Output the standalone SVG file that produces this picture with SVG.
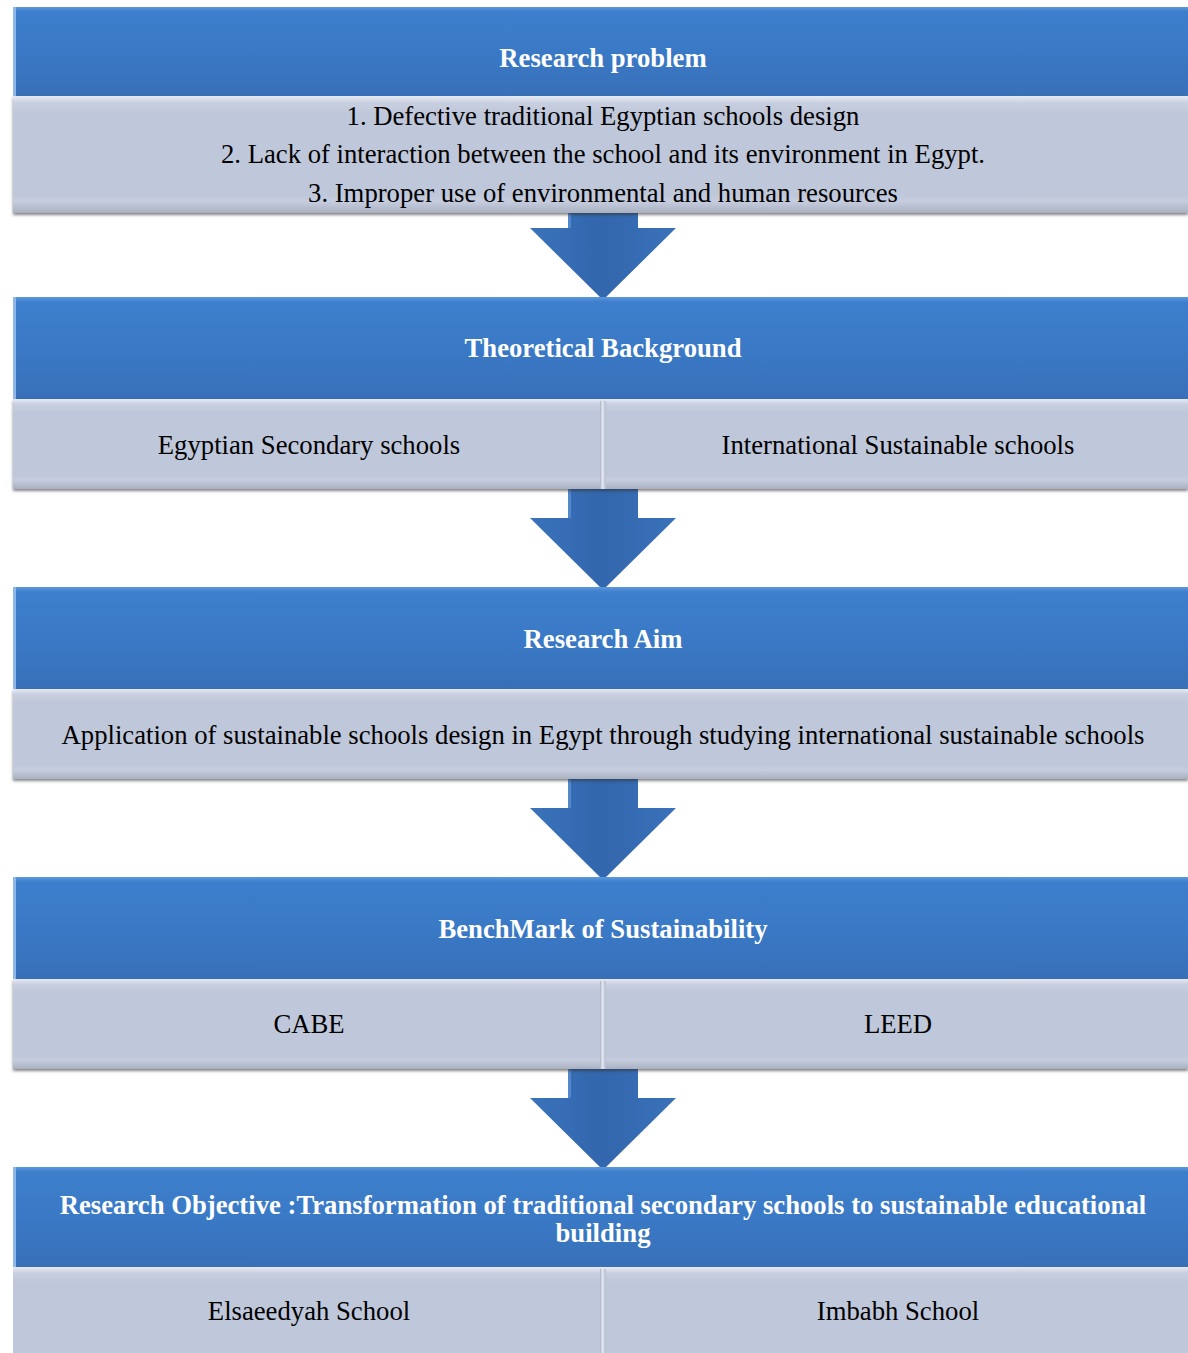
<svg xmlns="http://www.w3.org/2000/svg" width="1188" height="1353" viewBox="0 0 1188 1353">
<defs>
<linearGradient id="hdr" x1="0" y1="0" x2="0" y2="1">
<stop offset="0" stop-color="#5d98dc"/>
<stop offset="0.05" stop-color="#3d7fcc"/>
<stop offset="0.5" stop-color="#3a79c6"/>
<stop offset="1" stop-color="#3870b8"/>
</linearGradient>
<linearGradient id="body" x1="0" y1="0" x2="0" y2="1">
<stop offset="0" stop-color="#e6eaf3"/>
<stop offset="0.06" stop-color="#c8cfe0"/>
<stop offset="0.15" stop-color="#bfc7da"/>
<stop offset="0.85" stop-color="#bfc7da"/>
<stop offset="0.9" stop-color="#c6cddf"/>
<stop offset="1" stop-color="#a9b0c0"/>
</linearGradient>
<linearGradient id="arr" x1="0" y1="0" x2="1" y2="0">
<stop offset="0" stop-color="#3a73ba"/>
<stop offset="0.5" stop-color="#3266ad"/>
<stop offset="1" stop-color="#3a72b9"/>
</linearGradient>
<linearGradient id="div" x1="0" y1="0" x2="1" y2="0">
<stop offset="0" stop-color="#a9b1c4"/>
<stop offset="0.4" stop-color="#e3e8f2"/>
<stop offset="1" stop-color="#b3bbcd"/>
</linearGradient>
<filter id="sh" x="-5%" y="-10%" width="110%" height="130%">
<feDropShadow dx="0" dy="2" stdDeviation="1.5" flood-color="#333" flood-opacity="0.6"/>
</filter>
</defs>
<style>
.h{fill:url(#hdr)}
.b{fill:url(#body)}
.ht{font-family:"Liberation Serif",serif;font-weight:bold;font-size:26.7px;fill:#ffffff;text-anchor:middle}
.bt{font-family:"Liberation Serif",serif;font-size:26.7px;fill:#000000;text-anchor:middle}
.a{fill:url(#arr)}
.al{fill:#5f93d4;opacity:0.7}
.d{fill:url(#div)}
.hl{fill:#8fb8ea}
</style>

<g id="connectors">
<g id="arrow1"><polygon class="a" points="568,210 638,210 638,228 676,228 603,300 530,228 568,228"/><rect class="al" x="568" y="213" width="3" height="15"/></g>
<g id="arrow2"><polygon class="a" points="568,486 638,486 638,518 676,518 603,590 530,518 568,518"/><rect class="al" x="568" y="489" width="3" height="29"/></g>
<g id="arrow3"><polygon class="a" points="568,776 638,776 638,808 676,808 603,880 530,808 568,808"/><rect class="al" x="568" y="779" width="3" height="29"/></g>
<g id="arrow4"><polygon class="a" points="568,1066 638,1066 638,1098 676,1098 603,1170 530,1098 568,1098"/><rect class="al" x="568" y="1069" width="3" height="29"/></g>
</g>

<g id="node1">
<rect class="h" x="13" y="7" width="1175" height="89"/>
<rect class="hl" x="13" y="7" width="3" height="89"/>
<rect class="b" x="13" y="96" width="1175" height="117" filter="url(#sh)"/>
<text class="ht" x="603" y="67">Research problem</text>
<text class="bt" x="603" y="125">1. Defective traditional Egyptian schools design</text>
<text class="bt" x="603" y="163">2. Lack of interaction between the school and its environment in Egypt.</text>
<text class="bt" x="603" y="202">3. Improper use of environmental and human resources</text>
</g>

<g id="node2">
<rect class="h" x="13" y="297" width="1175" height="102"/>
<rect class="hl" x="13" y="297" width="3" height="102"/>
<rect class="b" x="13" y="399" width="1175" height="90" filter="url(#sh)"/>
<rect class="d" x="600" y="401" width="6" height="88"/>
<text class="ht" x="603" y="357">Theoretical Background</text>
<text class="bt" x="309" y="454">Egyptian Secondary schools</text>
<text class="bt" x="898" y="454">International Sustainable schools</text>
</g>

<g id="node3">
<rect class="h" x="13" y="587" width="1175" height="102"/>
<rect class="hl" x="13" y="587" width="3" height="102"/>
<rect class="b" x="13" y="689" width="1175" height="90" filter="url(#sh)"/>
<text class="ht" x="603" y="648">Research Aim</text>
<text class="bt" x="603" y="744">Application of sustainable schools design in Egypt through studying international sustainable schools</text>
</g>

<g id="node4">
<rect class="h" x="13" y="877" width="1175" height="102"/>
<rect class="hl" x="13" y="877" width="3" height="102"/>
<rect class="b" x="13" y="979" width="1175" height="90" filter="url(#sh)"/>
<rect class="d" x="600" y="981" width="6" height="88"/>
<text class="ht" x="603" y="938">BenchMark of Sustainability</text>
<text class="bt" x="309" y="1033">CABE</text>
<text class="bt" x="898" y="1033">LEED</text>
</g>

<g id="node5">
<rect class="h" x="13" y="1167" width="1175" height="100"/>
<rect class="hl" x="13" y="1167" width="3" height="100"/>
<rect class="b" x="13" y="1267" width="1175" height="100"/>
<rect class="d" x="600" y="1269" width="6" height="84"/>
<text class="ht" x="603" y="1214">Research Objective :Transformation of traditional secondary schools to sustainable educational</text>
<text class="ht" x="603" y="1242">building</text>
<text class="bt" x="309" y="1320">Elsaeedyah School</text>
<text class="bt" x="898" y="1320">Imbabh School</text>
</g>
</svg>
